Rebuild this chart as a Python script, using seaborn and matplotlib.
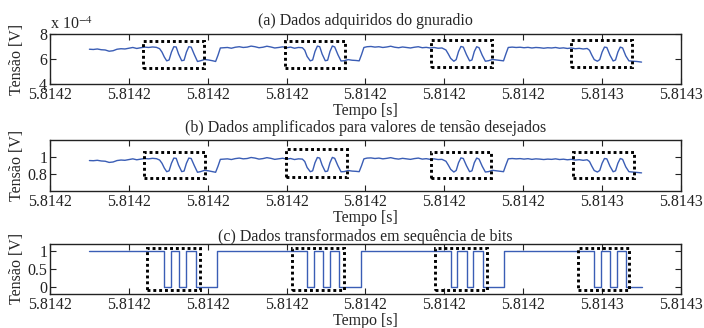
import numpy as np
import pandas as pd
import matplotlib
matplotlib.use('Agg')
import matplotlib.pyplot as plt
import seaborn as sns
from matplotlib.patches import Rectangle
from matplotlib.ticker import FormatStrFormatter, FuncFormatter

sns.set_style('ticks')
plt.rcParams['font.family'] = ['Liberation Serif', 'DejaVu Serif']
plt.rcParams['mathtext.fontset'] = 'stix'

t0 = 5.81419  # inicio da janela [s]

# tempo em microssegundos a partir de t0 (paineis a e b)
tempo_us = [
    0.0, 0.5, 1.0, 1.5, 2.0, 2.5, 3.0, 3.5, 4.0, 4.5, 5.0, 5.5, 6.0, 6.5, 7.0, 7.5, 8.0, 8.5,
    8.9, 9.2, 9.5, 9.8, 10.1, 10.4, 10.7, 11.0, 11.3, 11.7, 12.0, 12.3, 12.6, 12.9, 13.3, 13.7,
    14.1, 14.6, 15.1, 15.6, 16.0, 16.3, 16.6,
    17.0, 17.5, 18.0, 18.5, 19.0, 19.5, 20.0, 20.5, 21.0, 21.5, 22.0, 22.5, 23.0, 23.5, 24.0,
    24.5, 25.0, 25.5, 26.0, 26.5,
    27.0, 27.3, 27.6, 28.0, 28.3, 28.6, 28.9, 29.2, 29.5, 29.9, 30.2, 30.5, 30.8, 31.1, 31.5,
    31.9, 32.3, 32.8, 33.3, 33.8, 34.2, 34.5, 34.8,
    35.2, 35.7, 36.2, 36.7, 37.2, 37.7, 38.2, 38.7, 39.2, 39.7, 40.2, 40.7, 41.2, 41.7, 42.2,
    42.7, 43.2, 43.7, 44.2, 44.7,
    45.2, 45.5, 45.8, 46.2, 46.5, 46.8, 47.1, 47.4, 47.8, 48.2, 48.5, 48.8, 49.1, 49.4, 49.8,
    50.2, 50.6, 51.1, 51.6, 52.1, 52.5, 52.8, 53.1,
    53.6, 54.1, 54.6, 55.1, 55.6, 56.1, 56.6, 57.1, 57.6, 58.1, 58.6, 59.1, 59.6, 60.1, 60.6,
    61.1, 61.6, 62.1, 62.6, 63.1,
    63.4, 63.7, 64.0, 64.4, 64.7, 65.0, 65.3, 65.6, 66.0, 66.4, 66.7, 67.0, 67.3, 67.6, 68.0,
    68.4, 68.9, 69.4, 70.0,
]

# (a) dados do gnuradio, em unidades de 1e-4 V
gnuradio_e4 = [
    6.78, 6.76, 6.80, 6.74, 6.72, 6.62, 6.66, 6.78, 6.82, 6.80, 6.86, 6.92, 6.84, 6.90, 6.95, 6.92, 6.96, 6.93,
    6.82, 6.55, 6.15, 5.85, 5.92, 6.55, 6.98, 6.96, 6.40, 5.86, 5.90, 6.55, 6.98, 6.95, 6.35, 5.80,
    5.86, 5.96, 5.92, 5.86, 5.80, 6.30, 6.88,
    6.90, 6.92, 6.86, 6.94, 6.98, 6.92, 6.95, 7.03, 6.98, 6.90, 6.94, 7.02, 6.96, 6.88, 6.92,
    6.97, 6.90, 6.95, 6.86, 6.92,
    6.90, 6.70, 6.20, 5.85, 5.92, 6.60, 7.03, 6.98, 6.40, 5.86, 5.90, 6.60, 7.04, 6.96, 6.35,
    5.84, 5.86, 5.95, 5.90, 5.88, 5.85, 6.35, 6.92,
    6.98, 7.00, 6.95, 6.98, 6.92, 6.96, 7.02, 6.94, 6.90, 6.96, 6.92, 6.88, 6.94, 6.98, 6.90,
    6.93, 6.88, 6.92, 6.86, 6.88,
    6.72, 6.40, 6.05, 5.82, 5.95, 6.60, 7.00, 6.95, 6.35, 5.85, 5.92, 6.60, 6.98, 6.90, 6.30,
    5.82, 5.86, 5.96, 5.92, 5.88, 5.85, 6.40, 6.92,
    6.95, 6.92, 6.94, 6.90, 6.93, 6.88, 6.92, 6.90, 6.86, 6.90, 6.88, 6.92, 6.86, 6.89, 6.84,
    6.88, 6.82, 6.85, 6.80, 6.84,
    6.70, 6.30, 5.95, 5.82, 5.95, 6.55, 6.95, 6.92, 6.30, 5.84, 5.92, 6.55, 6.95, 6.88, 6.25,
    5.85, 5.82, 5.80, 5.75,
]

# (b) dados amplificados [V]
amplificado = [
    0.957, 0.955, 0.960, 0.952, 0.949, 0.935, 0.940, 0.957, 0.963, 0.960, 0.969, 0.977, 0.966, 0.974, 0.981, 0.977, 0.983, 0.979,
    0.963, 0.925, 0.868, 0.826, 0.836, 0.925, 0.986, 0.983, 0.904, 0.827, 0.833, 0.925, 0.986, 0.981, 0.897, 0.819,
    0.827, 0.842, 0.836, 0.827, 0.819, 0.890, 0.971,
    0.974, 0.977, 0.969, 0.980, 0.986, 0.977, 0.981, 0.993, 0.986, 0.974, 0.980, 0.991, 0.983, 0.971, 0.977,
    0.984, 0.974, 0.981, 0.969, 0.977,
    0.974, 0.946, 0.875, 0.826, 0.836, 0.932, 0.993, 0.986, 0.904, 0.827, 0.833, 0.932, 0.994, 0.983, 0.897,
    0.825, 0.827, 0.840, 0.833, 0.830, 0.826, 0.897, 0.977,
    0.986, 0.988, 0.981, 0.986, 0.977, 0.983, 0.991, 0.980, 0.974, 0.983, 0.977, 0.971, 0.980, 0.986, 0.974,
    0.979, 0.971, 0.977, 0.969, 0.971,
    0.949, 0.904, 0.854, 0.822, 0.840, 0.932, 0.988, 0.981, 0.897, 0.826, 0.836, 0.932, 0.986, 0.974, 0.890,
    0.822, 0.827, 0.842, 0.836, 0.830, 0.826, 0.904, 0.977,
    0.981, 0.977, 0.980, 0.974, 0.979, 0.971, 0.977, 0.974, 0.969, 0.974, 0.971, 0.977, 0.969, 0.973, 0.966,
    0.971, 0.963, 0.967, 0.960, 0.966,
    0.946, 0.890, 0.840, 0.822, 0.840, 0.925, 0.981, 0.977, 0.890, 0.825, 0.836, 0.925, 0.981, 0.971, 0.883,
    0.826, 0.822, 0.819, 0.812,
]

# (c) sequencia de bits: instantes de transicao [us] e nivel a partir dali
tempo_bits_us = [0.0, 9.49, 10.38, 11.39, 12.28, 13.54, 16.20, 27.59, 28.48, 29.62, 30.51, 31.65,
                 34.43, 45.82, 46.58, 47.85, 48.61, 49.87, 52.53, 63.92, 64.81, 65.95, 66.84,
                 67.97, 70.0]
bits = [1, 0, 1, 0, 1, 0, 1, 0, 1, 0, 1, 0, 1, 0, 1, 0, 1, 0, 1, 0, 1, 0, 1, 0, 0]

# caixas pontilhadas (x0, x1 em us; y0, y1 em unidades do eixo)
caixas_a = [(6.84, 14.56, 5.3, 7.45), (24.81, 32.41, 5.3, 7.45),
            (43.29, 51.0, 5.35, 7.5), (61.1, 68.85, 5.35, 7.5)]
caixas_b = [(6.96, 14.69, 0.75, 1.06), (24.94, 32.66, 0.765, 1.09),
            (43.3, 50.9, 0.75, 1.06), (61.3, 69.1, 0.75, 1.06)]
caixas_c = [(7.34, 14.05, -0.08, 1.08), (25.7, 32.28, -0.08, 1.08),
            (43.8, 50.38, -0.08, 1.08), (61.9, 68.36, -0.08, 1.08)]

titulos = ['(a) Dados adquiridos do gnuradio',
           '(b) Dados amplificados para valores de tensão desejados',
           '(c) Dados transformados em sequência de bits']

df_a = pd.DataFrame({'t': t0 + np.array(tempo_us) * 1e-6,
                     'v': np.array(gnuradio_e4) * 1e-4})
df_b = pd.DataFrame({'t': t0 + np.array(tempo_us) * 1e-6, 'v': amplificado})
df_c = pd.DataFrame({'t': t0 + np.array(tempo_bits_us) * 1e-6, 'v': bits})

azul = '#3a5db5'
fs = 11.5
ticks_x = 5.814185 + np.arange(9) * 1e-5

fig = plt.figure(figsize=(7.04, 3.28), dpi=100)
ax_a = fig.add_axes([0.071, 0.744, 0.8963, 0.1524])
ax_b = fig.add_axes([0.071, 0.418, 0.8963, 0.1555])
ax_c = fig.add_axes([0.071, 0.104, 0.8963, 0.1524])

sns.lineplot(data=df_a, x='t', y='v', ax=ax_a, color=azul, lw=1.0, estimator=None, sort=False)
sns.lineplot(data=df_b, x='t', y='v', ax=ax_b, color=azul, lw=1.0, estimator=None, sort=False)
sns.lineplot(data=df_c, x='t', y='v', ax=ax_c, color=azul, lw=1.0, estimator=None, sort=False,
             drawstyle='steps-post')

escala = {ax_a: 1e-4, ax_b: 1.0, ax_c: 1.0}
for ax, caixas in [(ax_a, caixas_a), (ax_b, caixas_b), (ax_c, caixas_c)]:
    s = escala[ax]
    for x0, x1, y0, y1 in caixas:
        ax.add_patch(Rectangle((t0 + x0 * 1e-6, y0 * s), (x1 - x0) * 1e-6, (y1 - y0) * s,
                               fill=False, edgecolor='black', linestyle=(0, (1, 1)),
                               lw=2.1, zorder=3))

ax_a.set_ylim(4e-4, 8e-4)
ax_a.set_yticks([4e-4, 6e-4, 8e-4])
ax_a.yaxis.set_major_formatter(FuncFormatter(lambda v, p: '%g' % round(v * 1e4, 6)))
ax_a.text(0.0, 1.02, 'x 10$^{-4}$', transform=ax_a.transAxes, fontsize=fs,
          ha='left', va='bottom')

ax_b.set_ylim(0.6, 1.2)
ax_b.set_yticks([0.8, 1.0])
ax_b.yaxis.set_major_formatter(FuncFormatter(lambda v, p: '%g' % round(v, 3)))

ax_c.set_ylim(-0.2, 1.2)
ax_c.set_yticks([0, 0.5, 1])
ax_c.yaxis.set_major_formatter(FuncFormatter(lambda v, p: '%g' % round(v, 3)))

pads = [6.5, 6.0, 2.0]
for ax, titulo, pad in zip([ax_a, ax_b, ax_c], titulos, pads):
    ax.set_xlim(ticks_x[0], ticks_x[-1])
    ax.set_xticks(ticks_x)
    ax.xaxis.set_major_formatter(FormatStrFormatter('%.4f'))
    ax.tick_params(direction='in', top=True, right=True, length=4, width=0.8,
                   labelsize=fs, pad=2, colors='#222222')
    for sp in ax.spines.values():
        sp.set_linewidth(1.0)
        sp.set_color('#222222')
    ax.set_title(titulo, fontsize=fs, pad=pad)
    ax.set_xlabel('Tempo [s]', fontsize=fs, labelpad=0.5)
    ax.set_ylabel('Tensão [V]', fontsize=fs)
    ax.yaxis.set_label_coords(-0.040, 0.5)

fig.savefig('out.png', dpi=100)
